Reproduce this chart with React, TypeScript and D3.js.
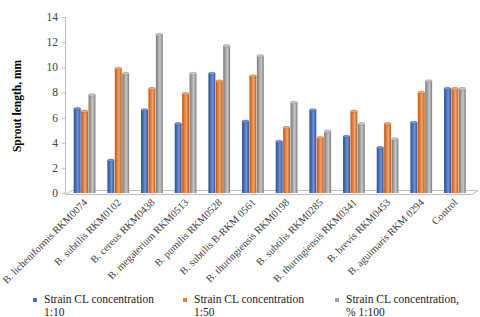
import React from "react";
import * as d3 from "d3";

const categories = [
  "B. licheniformis  RKM0074",
  "B. subtilis  RKM0102",
  "B. cereus  RKM0438",
  "B. megaterium  RKM0513",
  "B. pumilis  RKM0528",
  "B. subtilis B-RKM 0561",
  "B. thuringiensis RKM0198",
  "B. subtilis  RKM0285",
  "B. thuringiensis  RKM0341",
  "B. brevis  RKM0453",
  "B. aguimaris  RKM 0294",
  "Control",
];
const series1 = [6.7, 2.6, 6.6, 5.5, 9.5, 5.7, 4.1, 6.6, 4.5, 3.6, 5.6, 8.3];
const series2 = [6.5, 9.9, 8.3, 7.9, 8.9, 9.3, 5.2, 4.4, 6.5, 5.5, 8.0, 8.3];
const series3 = [7.8, 9.5, 12.6, 9.5, 11.7, 10.9, 7.2, 4.9, 5.5, 4.3, 8.9, 8.3];
const seriesNames = [
  ["Strain CL concentration", "1:10"],
  ["Strain CL concentration", "1:50"],
  ["Strain CL concentration,", "% 1:100"],
];
const yTicks = [0, 2, 4, 6, 8, 10, 12, 14];
const colors = ["#4472C4", "#ED7D31", "#A5A5A5"];
const darks = ["#2F528F", "#B85A1B", "#7B7B7B"];
const lights = ["#6F95DA", "#F5A56D", "#C9C9C9"];

export default function App() {
  const W = 480, H = 317;
  const x = d3.scaleBand<string>().domain(categories).range([68, 472]).paddingInner(0.34).paddingOuter(0.17);
  const sub = d3.scaleBand<number>().domain([0, 1, 2]).range([0, x.bandwidth()]).padding(0);
  const y = d3.scaleLinear().domain([0, 14]).range([193, 17]);
  const all = [series1, series2, series3];
  const serif = "'Liberation Serif', 'Times New Roman', serif";
  const legendX = [33, 183, 335];

  return (
    <svg width={W} height={H} style={{ position: "absolute", left: 0, top: 0, background: "#fff" }}>
      <defs>
        {colors.map((c, i) => (
          <linearGradient key={i} id={`g${i}`} x1="0" x2="1" y1="0" y2="0">
            <stop offset="0" stopColor={darks[i]} />
            <stop offset="0.35" stopColor={c} />
            <stop offset="0.6" stopColor={lights[i]} />
            <stop offset="1" stopColor={darks[i]} />
          </linearGradient>
        ))}
      </defs>
      {/* y axis */}
      <line x1={65.5} x2={65.5} y1={y(14)} y2={194} stroke="#BFBFBF" />
      {yTicks.map((t) => (
        <g key={t}>
          <line x1={62} x2={65.5} y1={y(t) + 0.5} y2={y(t) + 0.5} stroke="#BFBFBF" />
          <text x={58} y={y(t)} dy="0.35em" textAnchor="end" fontFamily={serif} fontSize={11.5} fill="#404040">
            {t}
          </text>
        </g>
      ))}
      {/* floor */}
      <path d="M66,194.5 L72,190.5 L478,190.5 L472,194.5 Z" fill="#fff" stroke="#BFBFBF" />
      {/* bars */}
      {categories.map((c, ci) => (
        <g key={c} transform={`translate(${x(c)},0)`}>
          {all.map((s, si) => {
            const bx = sub(si)!;
            const bw = sub.bandwidth() - 0.5;
            const top = y(s[ci]);
            return (
              <g key={si}>
                <rect x={bx} y={top} width={bw} height={193 - top} fill={`url(#g${si})`} />
                <ellipse cx={bx + bw / 2} cy={top} rx={bw / 2} ry={1.3} fill={lights[si]} stroke={darks[si]} strokeWidth={0.4} />
              </g>
            );
          })}
        </g>
      ))}
      {/* category labels */}
      {categories.map((c) => {
        const cx = x(c)! + x.bandwidth() / 2 - 2;
        return (
          <text key={c} transform={`translate(${cx},198) rotate(-45)`} textAnchor="end" dy="0.7em" fontFamily={serif} fontSize={10.4} fill="#404040">
            {c}
          </text>
        );
      })}
      {/* y title */}
      <text transform="translate(21,106) rotate(-90)" textAnchor="middle" fontFamily={serif} fontWeight="bold" fontSize={11.5} fill="#000">
        Sprout  length, mm
      </text>
      {/* legend */}
      {seriesNames.map((n, i) => (
        <g key={i}>
          <rect x={legendX[i]} y={298} width={4} height={4} fill={colors[i]} />
          <text x={legendX[i] + 11} y={303} fontFamily={serif} fontSize={11.5} fill="#222">{n[0]}</text>
          <text x={legendX[i] + 11} y={316} fontFamily={serif} fontSize={11.5} fill="#222">{n[1]}</text>
        </g>
      ))}
    </svg>
  );
}
